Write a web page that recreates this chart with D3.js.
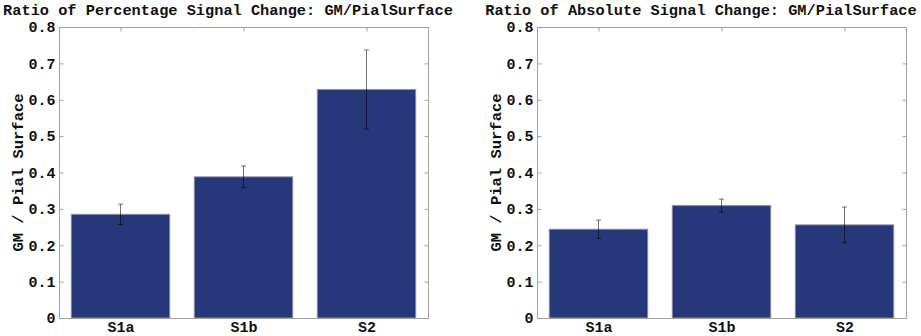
<!DOCTYPE html>
<html>
<head>
<meta charset="utf-8">
<script src="https://cdn.jsdelivr.net/npm/d3@7"></script>
<style>
  body { margin: 0; background: #fff; }
  svg text { font-family: "Liberation Mono", "Courier New", "DejaVu Sans Mono", monospace !important; font-weight: bold; fill: #111; }
</style>
</head>
<body>
<div id="chart"></div>
<script>
const categories = ["S1a", "S1b", "S2"];
const pctValues = [0.285, 0.388, 0.628];
const pctErrors = [0.028, 0.030, 0.109];
const absValues = [0.244, 0.309, 0.256];
const absErrors = [0.025, 0.018, 0.049];
const yTicks = [0, 0.1, 0.2, 0.3, 0.4, 0.5, 0.6, 0.7, 0.8];

const panels = [
  { title: "Ratio of Percentage Signal Change: GM/PialSurface", values: pctValues, errors: pctErrors, x0: 59, titleX: 228 },
  { title: "Ratio of Absolute Signal Change: GM/PialSurface", values: absValues, errors: absErrors, x0: 537, titleX: 701 }
];

const W = 921, H = 336;
const plotW = 369, plotTop = 27, plotBottom = 318;
const monoFont = "'Liberation Mono', 'Courier New', 'DejaVu Sans Mono', monospace";

const svg = d3.select("#chart").append("svg")
  .attr("width", W)
  .attr("height", H);

const y = d3.scaleLinear().domain([0, 0.8]).range([plotBottom, plotTop]);

panels.forEach(p => {
  const g = svg.append("g");
  const x = d3.scaleLinear().domain([0.5, 3.5]).range([p.x0, p.x0 + plotW]);
  const bw = (x(1.4) - x(0.6));

  // bars
  g.selectAll("rect.bar")
    .data(p.values)
    .enter().append("rect")
    .attr("class", "bar")
    .attr("x", (d, i) => x(i + 1) - bw / 2)
    .attr("y", d => y(d))
    .attr("width", bw)
    .attr("height", d => y(0) - y(d))
    .attr("fill", "#27387a")
    .attr("stroke", "#8a8f9c")
    .attr("stroke-width", 1);

  // error bars
  const eb = g.selectAll("g.err")
    .data(p.values.map((v, i) => ({ v, e: p.errors[i], i })))
    .enter().append("g")
    .attr("stroke", "#000")
    .attr("stroke-opacity", 0.55)
    .attr("stroke-width", 1);
  eb.append("line")
    .attr("x1", d => x(d.i + 1)).attr("x2", d => x(d.i + 1))
    .attr("y1", d => y(d.v - d.e)).attr("y2", d => y(d.v + d.e));
  eb.append("line")
    .attr("x1", d => x(d.i + 1) - 2.5).attr("x2", d => x(d.i + 1) + 2.5)
    .attr("y1", d => y(d.v + d.e)).attr("y2", d => y(d.v + d.e));
  eb.append("line")
    .attr("x1", d => x(d.i + 1) - 2.5).attr("x2", d => x(d.i + 1) + 2.5)
    .attr("y1", d => y(d.v - d.e)).attr("y2", d => y(d.v - d.e));

  // box
  g.append("rect")
    .attr("x", p.x0 + 0.5).attr("y", plotTop + 0.5)
    .attr("width", plotW).attr("height", plotBottom - plotTop)
    .attr("fill", "none")
    .attr("stroke", "#a0a0a0");

  // left axis
  const yAxis = d3.axisLeft(y).tickValues(yTicks)
    .tickFormat(d => d === 0 ? "0" : d3.format(".1f")(d))
    .tickSizeInner(-4).tickSizeOuter(0).tickPadding(4);
  const ya = g.append("g")
    .attr("transform", `translate(${p.x0 + 0.5},0)`)
    .call(yAxis)
    .attr("font-family", monoFont);
  ya.select(".domain").remove();
  ya.selectAll("line").attr("stroke", "#a0a0a0");
  ya.selectAll("text").attr("font-size", 15).style("fill", "#111");

  // right ticks
  const yr = g.append("g")
    .attr("transform", `translate(${p.x0 + plotW + 0.5},0)`)
    .call(d3.axisRight(y).tickValues(yTicks).tickSizeInner(-4).tickSizeOuter(0).tickFormat(""));
  yr.select(".domain").remove();
  yr.selectAll("line").attr("stroke", "#a0a0a0");

  // top ticks
  const xt = g.append("g")
    .attr("transform", `translate(0,${plotTop + 0.5})`)
    .call(d3.axisTop(x).tickValues([1, 2, 3]).tickSizeInner(-4).tickSizeOuter(0).tickFormat(""));
  xt.select(".domain").remove();
  xt.selectAll("line").attr("stroke", "#a0a0a0");

  // bottom axis labels
  const xb = g.append("g")
    .attr("transform", `translate(0,${plotBottom + 0.5})`)
    .call(d3.axisBottom(x).tickValues([1, 2, 3]).tickSizeInner(0).tickSizeOuter(0).tickPadding(3)
      .tickFormat(d => categories[d - 1]))
    .attr("font-family", monoFont);
  xb.select(".domain").remove();
  xb.selectAll("text").attr("font-size", 15).style("fill", "#111");

  // title
  g.append("text")
    .attr("x", p.titleX).attr("y", 15)
    .attr("text-anchor", "middle")
    .attr("font-size", 15.3)
    .text(p.title);

  // y label
  g.append("text")
    .attr("transform", `translate(${p.x0 - 36},${(plotTop + plotBottom) / 2}) rotate(-90)`)
    .attr("text-anchor", "middle")
    .attr("font-size", 15.5)
    .text("GM / Pial Surface");
});
</script>
</body>
</html>
